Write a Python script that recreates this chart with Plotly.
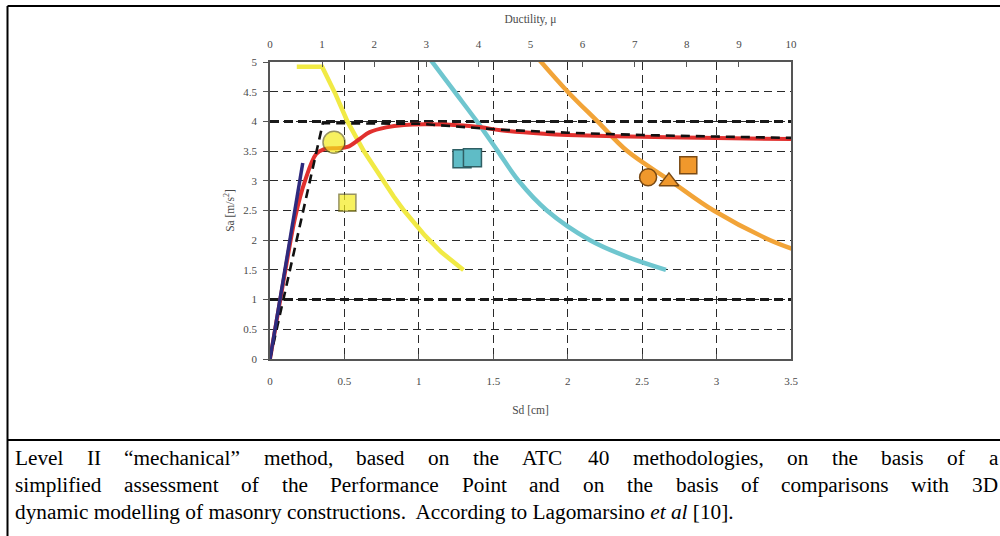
import plotly.graph_objects as go

# ---------------- data ----------------
sd_ticks = [0, 0.5, 1, 1.5, 2, 2.5, 3, 3.5]
sd_labels = ["0", "0.5", "1", "1.5", "2", "2.5", "3", "3.5"]
sa_ticks = [0, 0.5, 1, 1.5, 2, 2.5, 3, 3.5, 4, 4.5, 5]
sa_labels = ["0", "0.5", "1", "1.5", "2", "2.5", "3", "3.5", "4", "4.5", "5"]
mu_ticks = [0, 1, 2, 3, 4, 5, 6, 7, 8, 9, 10]
mu_labels = ["0", "1", "2", "3", "4", "5", "6", "7", "8", "9", "10"]
major_levels = [1, 4]

# elastic (initial stiffness) line
sd_elastic = [0, 0.22]
sa_elastic = [0, 3.3]

# capacity curve
sd_capacity = [0, 0.10, 0.17, 0.235, 0.31, 0.36, 0.45, 0.52, 0.60, 0.67, 0.78,
               0.90, 1.05, 1.30, 1.42, 1.55, 1.84, 2.00, 2.50, 3.00, 3.55]
sa_capacity = [0, 1.45, 2.40, 3.00, 3.45, 3.53, 3.55, 3.57, 3.70, 3.82, 3.90,
               3.94, 3.95, 3.93, 3.90, 3.85, 3.79, 3.77, 3.74, 3.72, 3.70]

# bilinear idealisation
sd_bilinear = [0, 0.355, 1.0, 1.55, 2.0, 2.5, 3.0, 3.55]
sa_bilinear = [0, 3.97, 3.96, 3.86, 3.81, 3.77, 3.745, 3.72]

# demand spectra
sd_demand_y = [0.18, 0.35, 0.44, 0.52, 0.63, 0.70, 0.76, 0.83, 0.90, 0.97, 1.04, 1.15, 1.30]
sa_demand_y = [4.92, 4.92, 4.46, 4.00, 3.50, 3.23, 3.00, 2.74, 2.50, 2.28, 2.08, 1.80, 1.50]
sd_demand_c = [1.06, 1.24, 1.39, 1.53, 1.67, 1.86, 2.15, 2.40, 2.66]
sa_demand_c = [5.10, 4.50, 4.00, 3.50, 3.00, 2.50, 2.00, 1.72, 1.50]
sd_demand_o = [1.78, 2.00, 2.20, 2.40, 2.69, 2.98, 3.36, 3.55]
sa_demand_o = [5.12, 4.50, 4.00, 3.50, 3.00, 2.50, 2.00, 1.82]

# performance points / 3D comparisons
sd_pts_y = [0.43, 0.52]
sa_pts_y = [3.65, 2.63]
sym_pts_y = ["circle", "square"]
size_pts_y = [22, 17]
sd_pts_c = [1.29, 1.36]
sa_pts_c = [3.37, 3.39]
sd_pts_o = [2.54, 2.68, 2.81]
sa_pts_o = [3.06, 2.99, 3.26]
sym_pts_o = ["circle", "triangle-up", "square"]

caption_justified = [
    ["Level", "II", "\u201cmechanical\u201d", "method,", "based", "on", "the", "ATC", "40",
     "methodologies,", "on", "the", "basis", "of", "a"],
    ["simplified", "assessment", "of", "the", "Performance", "Point", "and", "on", "the",
     "basis", "of", "comparisons", "with", "3D"],
]
caption_last = ("dynamic modelling of masonry constructions.\u00a0 According to "
                "Lagomarsino <i>et al</i> [10].")

# ---------------- styling ----------------
W, H = 1000, 536
CHART_FONT = "Liberation Serif"
TXT = "#4a4a4a"

def px(x):
    return x / W

def py(y):
    return 1 - y / H

fig = go.Figure()

fig.add_trace(go.Scatter(x=sd_demand_y, y=sa_demand_y, mode="lines",
                         line=dict(color="#f1ea45", width=4.5), hoverinfo="skip"))
fig.add_trace(go.Scatter(x=sd_demand_c, y=sa_demand_c, mode="lines", line_shape="spline",
                         line=dict(color="#6fc6cf", width=4.5), hoverinfo="skip"))
fig.add_trace(go.Scatter(x=sd_demand_o, y=sa_demand_o, mode="lines", line_shape="spline",
                         line=dict(color="#f2a438", width=4.5), hoverinfo="skip"))
fig.add_trace(go.Scatter(x=sd_capacity, y=sa_capacity, mode="lines", line_shape="spline",
                         line=dict(color="#e1302e", width=4), hoverinfo="skip"))
fig.add_trace(go.Scatter(x=sd_bilinear, y=sa_bilinear, mode="lines",
                         line=dict(color="#111111", width=2.6, dash="9px,6px"), hoverinfo="skip"))
fig.add_trace(go.Scatter(x=sd_elastic, y=sa_elastic, mode="lines",
                         line=dict(color="#2e2a7e", width=3.5), hoverinfo="skip",
                         yaxis="y3"))

fig.add_trace(go.Scatter(x=sd_pts_y, y=sa_pts_y, mode="markers",
                         marker=dict(symbol=sym_pts_y, size=size_pts_y, color="#f4ec1c",
                                     line=dict(color="#6b6520", width=1.5)), hoverinfo="skip"))
fig.add_trace(go.Scatter(x=sd_pts_c, y=sa_pts_c, mode="markers",
                         marker=dict(symbol="square", size=18, color="#5fbcc6",
                                     line=dict(color="#2f5f64", width=1.5)), hoverinfo="skip"))
fig.add_trace(go.Scatter(x=sd_pts_o, y=sa_pts_o, mode="markers",
                         marker=dict(symbol=sym_pts_o, size=17, color="#f0982c",
                                     line=dict(color="#7a4a14", width=1.5)), hoverinfo="skip"))
# top ductility axis carrier
fig.add_trace(go.Scatter(x=[None], y=[None], xaxis="x2", yaxis="y", hoverinfo="skip"))

tickfont = dict(family=CHART_FONT, size=11, color=TXT)
titlefont = dict(family=CHART_FONT, size=11.5, color=TXT)
x_dom = [px(270), px(791)]
y_dom = [py(359), py(62)]

fig.update_layout(
    width=W, height=H, margin=dict(l=0, r=0, t=0, b=0, pad=0, autoexpand=False),
    paper_bgcolor="white", plot_bgcolor="white", showlegend=False,
    xaxis=dict(domain=x_dom, range=[0, 3.5], tickvals=sd_ticks, ticktext=sd_labels,
               ticks="inside", ticklen=5, tickcolor="#555", tickwidth=1.3,
               showline=True, linecolor="#555", linewidth=1.5, automargin=False,
               showgrid=True, gridcolor="#2a2a2a", gridwidth=1.3, griddash="8px,5px",
               zeroline=False, tickfont=tickfont, ticklabelstandoff=11,
               title=dict(text="Sd [cm]", font=titlefont, standoff=20), anchor="y"),
    xaxis2=dict(overlaying="x", side="top", anchor="y", range=[0, 10],
                tickvals=mu_ticks, ticktext=mu_labels, ticks="inside", ticklen=5,
                tickcolor="#555", tickwidth=1.3, showline=True, linecolor="#555",
                linewidth=1.5, showgrid=False, zeroline=False, tickfont=tickfont,
                ticklabelstandoff=8, automargin=False,
                title=dict(text="Ductility, \u03bc", font=titlefont, standoff=12)),
    yaxis=dict(domain=y_dom, range=[0, 5], tickvals=sa_ticks, ticktext=sa_labels,
               ticks="outside", ticklen=5, tickcolor="#555", tickwidth=1.3,
               showline=True, mirror=True, linecolor="#555", linewidth=1.5,
               showgrid=True, gridcolor="#2a2a2a", gridwidth=1.3, griddash="8px,5px",
               zeroline=False, tickfont=tickfont, ticklabelstandoff=4, automargin=False,
               title=dict(text="Sa [m/s<sup>2</sup>]", font=titlefont, standoff=6),
               anchor="x"),
    yaxis3=dict(overlaying="y", anchor="x", side="left", range=[0, 5],
                tickvals=major_levels, showticklabels=False, ticks="", automargin=False,
                showgrid=True, gridcolor="#1a1a1a", gridwidth=2.6, griddash="9px,5px",
                showline=False, zeroline=False),
)

# frame of the figure/caption box
box = dict(color="black", width=2)
fig.add_shape(type="line", xref="paper", yref="paper", x0=px(7.5), x1=1.02, y0=py(6), y1=py(6), line=box)
fig.add_shape(type="line", xref="paper", yref="paper", x0=px(7.5), x1=px(7.5), y0=py(6), y1=-0.02, line=box)
fig.add_shape(type="line", xref="paper", yref="paper", x0=px(7.5), x1=1.02, y0=py(440), y1=py(440), line=box)

# caption: Times metrics (Liberation Serif) for justification
TW = {' ': 250, 'a': 444, 'b': 500, 'c': 444, 'd': 500, 'e': 444, 'f': 333, 'g': 500, 'h': 500,
      'i': 278, 'j': 278, 'k': 500, 'l': 278, 'm': 778, 'n': 500, 'o': 500, 'p': 500, 'q': 500,
      'r': 333, 's': 389, 't': 278, 'u': 500, 'v': 500, 'w': 722, 'x': 500, 'y': 500, 'z': 444,
      'A': 722, 'C': 667, 'D': 722, 'I': 333, 'L': 611, 'P': 556, 'T': 611,
      '0': 500, '1': 500, '2': 500, '3': 500, '4': 500, ',': 250, '.': 250,
      '\u201c': 444, '\u201d': 444, '[': 333, ']': 333}
CAP_SIZE = 21.3
CAP_FONT = dict(family="Liberation Serif", size=CAP_SIZE, color="black")
left_px, right_px = 14, 997
line_y = [458, 485, 512]

def wwidth(word):
    return sum(TW.get(ch, 500) for ch in word) / 1000 * CAP_SIZE

for li, words in enumerate(caption_justified):
    widths = [wwidth(w) for w in words]
    gap = (right_px - left_px - sum(widths)) / (len(words) - 1)
    xpos = left_px
    for w, wd in zip(words, widths):
        fig.add_annotation(x=px(xpos), y=py(line_y[li]), xref="paper", yref="paper",
                           text=w, showarrow=False, xanchor="left", yanchor="middle",
                           font=CAP_FONT, borderpad=0)
        xpos += wd + gap

fig.add_annotation(x=px(left_px), y=py(line_y[2]), xref="paper", yref="paper",
                   text=caption_last, showarrow=False, xanchor="left", yanchor="middle",
                   font=CAP_FONT, borderpad=0)

fig.write_html("out.html")
